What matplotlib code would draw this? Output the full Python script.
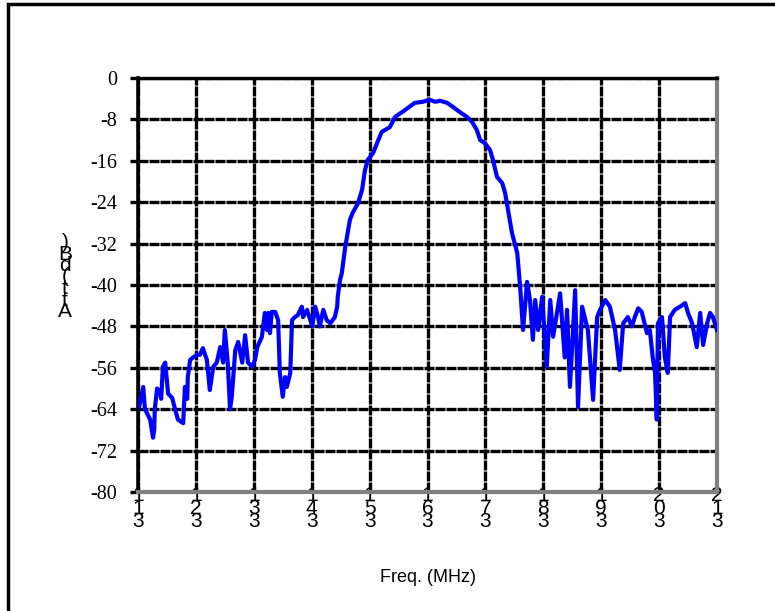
import matplotlib
matplotlib.use("Agg")
import matplotlib.pyplot as plt
from matplotlib.patches import Rectangle

# attenuation trace, x in tick units (0..10), y in dB
freq = [0.02, 0.09, 0.12, 0.21, 0.26, 0.28, 0.29, 0.33, 0.38, 0.40, 0.43, 0.47, 0.52, 0.59,
        0.64, 0.69, 0.78, 0.81, 0.85, 0.86, 0.90, 0.95, 1.02, 1.07, 1.12, 1.19, 1.24, 1.30,
        1.36, 1.42, 1.47, 1.50, 1.55, 1.59, 1.62, 1.68, 1.73, 1.80, 1.85, 1.90, 1.97, 2.02,
        2.06, 2.14, 2.19, 2.23, 2.25, 2.28, 2.31, 2.37, 2.42, 2.45, 2.50, 2.54, 2.57, 2.63,
        2.66, 2.71, 2.76, 2.83, 2.85, 2.92, 3.01, 3.06, 3.11, 3.14, 3.20, 3.26, 3.32, 3.40,
        3.44, 3.45, 3.49, 3.52, 3.58, 3.66, 3.71, 3.80, 3.87, 3.92, 3.97, 4.06, 4.15, 4.21,
        4.35, 4.44, 4.56, 4.66, 4.78, 4.92, 5.04, 5.13, 5.22, 5.34, 5.44, 5.56, 5.68, 5.77,
        5.85, 5.91, 5.99, 6.08, 6.13, 6.20, 6.29, 6.34, 6.39, 6.46, 6.55, 6.60, 6.65, 6.72,
        6.77, 6.82, 6.86, 6.91, 6.98, 7.06, 7.12, 7.17, 7.29, 7.37, 7.41, 7.46, 7.55, 7.60,
        7.67, 7.77, 7.86, 7.93, 7.98, 8.07, 8.15, 8.24, 8.32, 8.38, 8.46, 8.53, 8.58, 8.64,
        8.70, 8.79, 8.84, 8.89, 8.93, 8.96, 8.98, 9.05, 9.10, 9.15, 9.19, 9.27, 9.36, 9.45,
        9.50, 9.57, 9.65, 9.71, 9.76, 9.83, 9.88, 9.93, 10.0]
atten = [-63.5, -59.7, -64.0, -66.0, -69.5, -68.0, -64.0, -60.0, -60.7, -62.0, -55.8, -55.0, -61.0, -61.8,
         -64.0, -66.0, -66.7, -59.7, -62.0, -57.8, -54.5, -54.0, -53.5, -53.5, -52.2, -54.5, -60.3, -55.8,
         -55.0, -52.0, -55.0, -48.7, -55.0, -64.0, -61.6, -52.6, -51.0, -55.0, -49.7, -55.0, -55.8, -54.5,
         -52.0, -50.0, -45.4, -48.7, -45.4, -49.3, -45.2, -45.2, -46.8, -57.0, -61.6, -57.8, -59.7, -57.0,
         -46.8, -46.2, -45.8, -44.2, -46.2, -44.8, -48.0, -44.2, -46.2, -48.0, -44.8, -46.8, -47.4, -46.2,
         -44.2, -42.3, -39.0, -37.7, -32.6, -27.4, -26.0, -24.2, -21.6, -17.8, -15.8, -14.5, -12.0, -10.4,
         -9.5, -7.5, -6.6, -5.8, -4.8, -4.6, -4.2, -4.6, -4.4, -4.8, -5.6, -6.6, -7.5, -8.5,
         -10.0, -12.0, -12.6, -13.9, -15.8, -19.1, -20.3, -22.2, -25.5, -30.0, -33.8, -40.4, -48.7, -39.4,
         -42.9, -50.6, -42.9, -48.7, -42.3, -55.8, -42.9, -50.0, -41.6, -54.0, -44.8, -59.7, -41.0, -63.6,
         -44.2, -48.7, -62.2, -46.2, -44.8, -42.9, -44.2, -48.7, -56.4, -47.4, -46.2, -48.0, -46.2, -44.5,
         -45.2, -49.3, -48.7, -54.0, -57.0, -66.0, -47.4, -46.2, -54.0, -57.0, -46.2, -44.8, -44.2, -43.5,
         -45.4, -47.4, -52.0, -45.4, -51.6, -47.4, -45.4, -46.2, -48.7]

xlabels = ["1\n1\n3", "1\n2\n3", "1\n3\n3", "1\n4\n3", "1\n5\n3", "1\n6\n3",
           "1\n7\n3", "1\n8\n3", "1\n9\n3", "2\n0\n3", "2\n1\n3"]
yticks = list(range(0, -81, -8))

fig = plt.figure(figsize=(7.75, 6.11), dpi=100)
ax = fig.add_axes([138/775, 1 - 492/611, (717 - 138)/775, (492 - 78)/611])

ax.plot(freq, atten, color="#0000ff", lw=3, zorder=3)
ax.set_xlim(0, 10)
ax.set_ylim(-80, 0)

ax.set_xticks(range(11))
ax.set_xticklabels(xlabels, fontsize=15, family="Liberation Sans", linespacing=0.6)
ax.set_yticks(yticks)
ax.set_yticklabels([str(v) for v in yticks], fontsize=14.5, family="Liberation Serif")

ax.grid(True, color="black", lw=2.4, linestyle=(0, (3, 0.3)))
ax.tick_params(axis="x", length=0, pad=-4)
ax.tick_params(axis="y", length=6, width=2.4, pad=9)

ax.spines["left"].set_color("black")
ax.spines["left"].set_linewidth(2.6)
ax.spines["top"].set_color("black")
ax.spines["top"].set_linewidth(2.4)
ax.spines["bottom"].set_color("#808080")
ax.spines["bottom"].set_linewidth(3)
ax.spines["right"].set_color("#808080")
ax.spines["right"].set_linewidth(3)

fig.text(65/775, 1 - 277/611, ")\nB\nd\n(\nt\nt\nA", ha="center", va="center",
         fontsize=15, family="Liberation Sans", linespacing=0.5)
fig.text(428/775, 1 - 578/611, "Freq. (MHz)", ha="center", va="center",
         fontsize=13, family="Liberation Sans")

fig.patches.append(Rectangle((8/775, -0.1), 1.2, 1 - 4/611 + 0.1, transform=fig.transFigure,
                             fill=False, lw=2.5, ec="black"))

fig.savefig("out.png", dpi=100)
